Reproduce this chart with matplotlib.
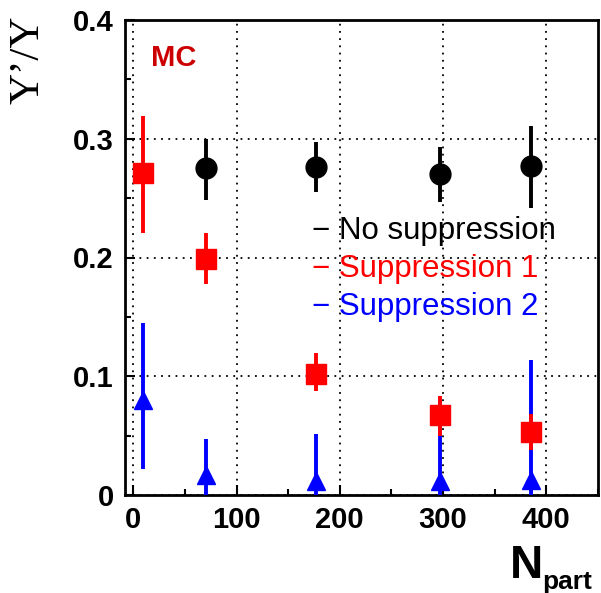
import matplotlib.pyplot as plt
from matplotlib.ticker import MultipleLocator

# values
npart = [9, 70, 177, 297, 385]

no_supp_x = [70, 177, 297, 385]
no_supp_y = [0.275, 0.276, 0.270, 0.277]
no_supp_lo = [0.027, 0.021, 0.023, 0.035]
no_supp_hi = [0.025, 0.021, 0.023, 0.034]

supp1_y = [0.271, 0.199, 0.102, 0.067, 0.053]
supp1_lo = [0.050, 0.021, 0.014, 0.017, 0.015]
supp1_hi = [0.048, 0.022, 0.018, 0.016, 0.015]

supp2_y = [0.080, 0.017, 0.012, 0.012, 0.013]
supp2_lo = [0.058, 0.017, 0.012, 0.012, 0.013]
supp2_hi = [0.065, 0.030, 0.039, 0.068, 0.101]

labels = ["No suppression", "Suppression 1", "Suppression 2"]
colors = ["black", "red", "blue"]

fig = plt.figure(figsize=(6.01, 5.93), dpi=100)
ax = fig.add_axes([125 / 601, 1 - 495 / 593, 473 / 601, 475 / 593])

ax.errorbar(npart, supp2_y, yerr=[supp2_lo, supp2_hi], fmt="^", color="blue",
            ms=13, elinewidth=2.8, capsize=0, zorder=3)
ax.errorbar(npart, supp1_y, yerr=[supp1_lo, supp1_hi], fmt="s", color="red",
            ms=15, elinewidth=2.8, capsize=0, zorder=4)
ax.errorbar(no_supp_x, no_supp_y, yerr=[no_supp_lo, no_supp_hi], fmt="o",
            color="black", ms=15, elinewidth=2.8, capsize=0, zorder=5)

ax.set_xlim(-8, 450)
ax.set_ylim(0, 0.4)
ax.xaxis.set_major_locator(MultipleLocator(100))
ax.xaxis.set_minor_locator(MultipleLocator(50))
ax.yaxis.set_minor_locator(MultipleLocator(0.05))
ax.set_yticks([0, 0.1, 0.2, 0.3, 0.4])
ax.set_yticklabels(["0", "0.1", "0.2", "0.3", "0.4"])
ax.tick_params(which="both", direction="in", length=7, width=1.5,
               labelsize=21, pad=8)
ax.tick_params(which="minor", length=4)
for lab in ax.get_xticklabels() + ax.get_yticklabels():
    lab.set_fontweight("bold")
    lab.set_family("Liberation Sans")

ax.grid(True, which="major", linestyle=(0, (1, 3)), color="black", linewidth=1.3)
for s in ax.spines.values():
    s.set_linewidth(2)

ax.text(0.055, 0.92, "MC", transform=ax.transAxes, color="#cc0000",
        fontsize=21, fontweight="bold", family="Liberation Sans", va="center")

for i, (lab, c) in enumerate(zip(labels, colors)):
    ax.text(0.395, 0.555 - i * 0.08, "\u2212 " + lab, transform=ax.transAxes,
            color=c, fontsize=22.5, family="Liberation Sans", va="center",
            zorder=6)

fig.text(28 / 601, 1 - 60 / 593, "\u03a5\u2019/\u03a5", rotation=90,
         fontsize=31, family="Liberation Serif", ha="center", va="center")
fig.text(510 / 601, 1 - 578 / 593, "N", fontsize=33, fontweight="bold",
         family="Liberation Sans", ha="left", va="baseline")
fig.text(542 / 601, 1 - 589 / 593, "part", fontsize=19, fontweight="bold",
         family="Liberation Sans", ha="left", va="baseline")

fig.savefig("out.png", dpi=100)
